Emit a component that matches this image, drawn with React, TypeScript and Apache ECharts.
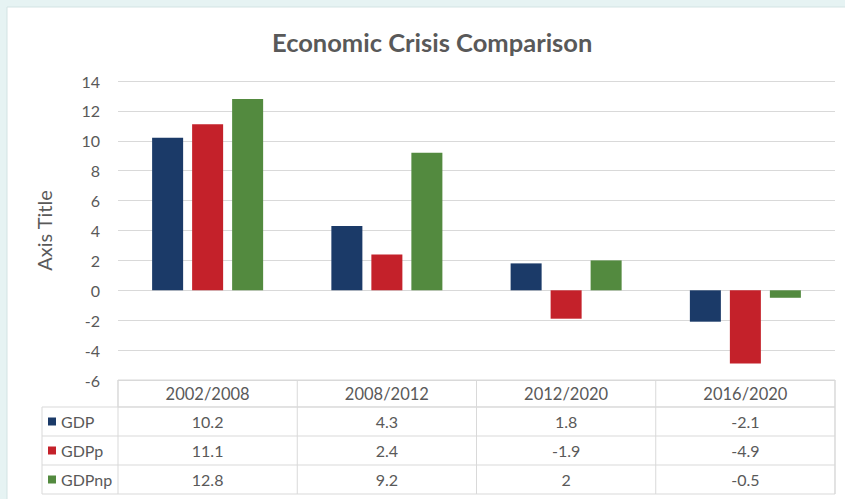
import React, { useEffect, useRef } from "react";
import * as echarts from "echarts";

const categories = ["2002/2008", "2008/2012", "2012/2020", "2016/2020"];
const seriesNames = ["GDP", "GDPp", "GDPnp"];
const gdp = [10.2, 4.3, 1.8, -2.1];
const gdpP = [11.1, 2.4, -1.9, -4.9];
const gdpNp = [12.8, 9.2, 2, -0.5];
const colors = ["#1b3a68", "#c4212a", "#538a3f"];

const FONT = "Lato, 'Open Sans', sans-serif";
const TEXT = "#595959";

export default function App() {
  const ref = useRef<HTMLDivElement>(null);
  useEffect(() => {
    if (!ref.current) return;
    const chart = echarts.init(ref.current, undefined, { renderer: "svg" });
    const W = 845;
    const gridLeft = 118;
    const gridRight = 835;
    const gridTop = 81;
    const tableTop = 380;
    const headerH = 27;
    const rowH = 29;
    const legendLeft = 42;
    const lineColor = "#d9d9d9";
    const values = [gdp, gdpP, gdpNp];
    const catW = (gridRight - gridLeft) / categories.length;
    const tableBottom = tableTop + headerH + rowH * seriesNames.length;

    const graphics: any[] = [];
    graphics.push({
      type: "rect",
      shape: { x: 0, y: 0, width: W, height: 499 },
      style: { fill: "#e6f3f3" },
      z: -10,
    });
    graphics.push({
      type: "rect",
      shape: { x: 7, y: 7, width: W, height: 499 },
      style: { fill: "#ffffff", stroke: "#d3e3e3", lineWidth: 1 },
      z: -9,
    });
    graphics.push({
      type: "rect",
      shape: { x: gridLeft, y: tableTop, width: gridRight - gridLeft, height: headerH },
      style: { fill: "none", stroke: lineColor, lineWidth: 1 },
    });
    graphics.push({
      type: "rect",
      shape: { x: legendLeft, y: tableTop + headerH, width: gridRight - legendLeft, height: rowH * seriesNames.length },
      style: { fill: "none", stroke: lineColor, lineWidth: 1 },
    });
    for (let i = 1; i < seriesNames.length; i++) {
      const y = tableTop + headerH + rowH * i;
      graphics.push({ type: "line", shape: { x1: legendLeft, y1: y, x2: gridRight, y2: y }, style: { stroke: lineColor, lineWidth: 1 } });
    }
    for (let c = 0; c <= categories.length; c++) {
      const x = gridLeft + catW * c;
      graphics.push({ type: "line", shape: { x1: x, y1: tableTop, x2: x, y2: tableBottom }, style: { stroke: lineColor, lineWidth: 1 } });
    }
    categories.forEach((cat, c) => {
      graphics.push({
        type: "text",
        x: gridLeft + catW * (c + 0.5),
        y: tableTop + headerH / 2,
        style: { text: cat, fill: TEXT, font: `16.5px ${FONT}`, align: "center", verticalAlign: "middle" },
      });
    });
    seriesNames.forEach((name, r) => {
      const cy = tableTop + headerH + rowH * (r + 0.5);
      graphics.push({
        type: "rect",
        shape: { x: legendLeft + 6, y: cy - 4, width: 8, height: 8 },
        style: { fill: colors[r] },
      });
      graphics.push({
        type: "text",
        x: legendLeft + 19,
        y: cy,
        style: { text: name, fill: TEXT, font: `16px ${FONT}`, align: "left", verticalAlign: "middle" },
      });
      values[r].forEach((v, c) => {
        graphics.push({
          type: "text",
          x: gridLeft + catW * (c + 0.5),
          y: cy,
          style: { text: String(v), fill: TEXT, font: `16px ${FONT}`, align: "center", verticalAlign: "middle" },
        });
      });
    });

    chart.setOption({
      animation: false,
      backgroundColor: "transparent",
      title: {
        text: "Economic Crisis Comparison",
        left: 267,
        top: 24,
        textStyle: { fontFamily: FONT, fontSize: 25.5, fontWeight: "bold", color: TEXT },
      },
      grid: { left: gridLeft, right: W - gridRight, top: gridTop, bottom: 499 - tableTop },
      xAxis: {
        type: "category",
        data: categories,
        axisLabel: { show: false },
        axisTick: { show: false },
        axisLine: { show: false },
      },
      yAxis: {
        type: "value",
        min: -6,
        max: 14,
        interval: 2,
        name: "Axis Title",
        nameLocation: "middle",
        nameRotate: 90,
        nameGap: 64,
        nameTextStyle: { fontFamily: FONT, fontSize: 20, color: TEXT },
        axisLabel: { fontFamily: FONT, fontSize: 16, color: TEXT, margin: 18 },
        axisLine: { show: false },
        axisTick: { show: false },
        splitLine: { lineStyle: { color: lineColor, width: 1 } },
      },
      series: seriesNames.map((name, i) => ({
        name,
        type: "bar",
        data: values[i],
        barWidth: "17.3%",
        barGap: "29%",
        itemStyle: { color: colors[i] },
      })),
      graphic: graphics,
    });
    return () => chart.dispose();
  }, []);
  return <div ref={ref} style={{ width: 845, height: 499, position: "absolute", left: 0, top: 0 }} />;
}
